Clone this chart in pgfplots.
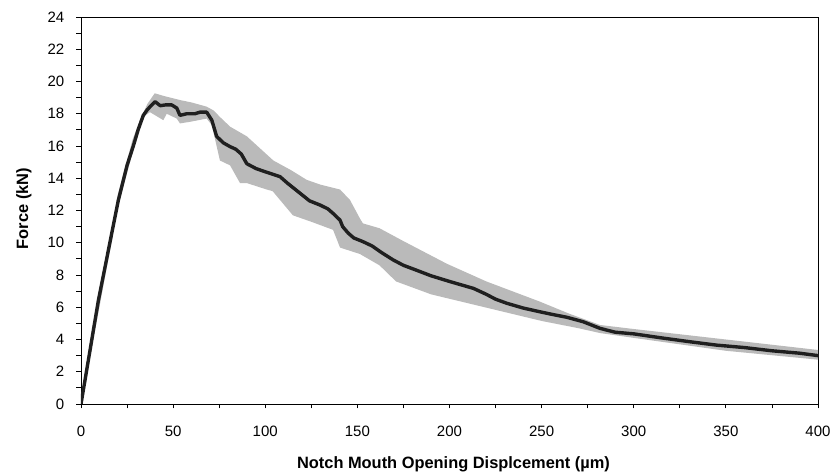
\documentclass[border=0pt]{standalone}
\usepackage{fontspec}
\setmainfont{Liberation Sans}
\usepackage{pgfplots}
\pgfplotsset{compat=1.18}
\usepgfplotslibrary{fillbetween}
\begin{document}
\begin{tikzpicture}
\begin{axis}[
  name=ax,
  scale only axis,
  width=737pt, height=387pt,
  xmin=0, xmax=400, ymin=0, ymax=24,
  xtick={0,50,...,400}, ytick={0,2,...,24},
  minor x tick num=1, minor y tick num=1,
  tick align=outside, tickpos=left,
  major tick length=4.5pt, minor tick length=4.5pt,
  every tick/.style={black, line width=0.8pt},
  axis line style={line width=0.9pt},
  tick label style={font=\fontsize{15}{17}\selectfont},
  /pgf/number format/assume math mode=true,
  xticklabel style={anchor=base, yshift=-28pt},
  yticklabel style={anchor=east, inner sep=0pt, xshift=-12pt},
  xlabel={\bfseries Notch Mouth Opening Displcement (µm)},
  ylabel={\bfseries Force (kN)},
  label style={font=\fontsize{16.4}{18}\selectfont},
  xlabel style={at={(axis description cs:0.5054,-0.1654)}, anchor=base},
  ylabel style={at={(axis description cs:-0.0719,0.505)}, anchor=base, rotate=0},
]
\addplot[name path=up, draw=none] coordinates {
(0,0.1) (10,7.0) (20,13.0) (28,16.4) (32,17.6) (36,18.6) (40,19.27) (45,19.1)
(53.7,18.85) (60,18.7) (68.2,18.44) (72,18.2) (75.4,17.8) (80.9,17.2) (90,16.6)
(104.4,15.1) (114,14.5) (122.5,13.9) (130,13.6) (140.6,13.3) (146,12.65)
(151.4,11.5) (153,11.2) (162,10.9) (175,10.1) (198.5,8.7) (220,7.6) (249,6.35)
(265,5.6) (281.7,4.9) (300,4.65) (350,4.0) (400,3.35)
};
\addplot[name path=lo, draw=none] coordinates {
(0,0) (10,6.0) (20,12.2) (28,15.6) (32,17.2) (35,17.9) (37.4,18.1) (44.7,17.6)
(46.5,18.0) (52,17.7) (53.7,17.4) (59.2,17.5) (68.2,17.7) (71,17.3) (73.6,16.0)
(75.4,15.1) (80.9,14.8) (86.3,13.7) (90,13.7) (100.8,13.3) (104,13.2) (115,11.7)
(125,11.3) (136.8,10.8) (140.6,9.7) (151.4,9.3) (162,8.6) (171,7.6) (190,6.8)
(218,6.03) (250,5.15) (270,4.7) (281.7,4.4) (300,4.1) (350,3.3) (400,2.75)
};
\addplot[fill=black!27, draw=none] fill between[of=up and lo];
\addplot[color=black!88, line width=3.4pt, line join=round, line cap=round] coordinates {
(0,0) (5,3.4) (9.4,6.4) (14.8,9.5) (20.2,12.6) (25,14.8) (28.4,16.0) (31,17.0)
(33.8,17.9) (36,18.25) (38,18.5) (40.2,18.75) (43,18.5) (46,18.55) (49.2,18.55)
(52,18.35) (53.7,17.9) (57.4,18.0) (61.9,18.0) (64.6,18.1) (68.2,18.1) (71,17.6)
(73.6,16.6) (77.2,16.2) (80.9,15.96) (84,15.8) (87,15.5) (90,14.9) (95,14.6)
(100,14.4) (108,14.1) (112,13.7) (118.9,13.07) (124,12.6) (129.7,12.34)
(134,12.1) (137,11.8) (140.6,11.4) (142,11.0) (145,10.6) (148,10.3) (153,10.07)
(158,9.8) (163,9.4) (169.5,8.93) (175,8.6) (182,8.3) (190,7.95) (200,7.6)
(206,7.4) (213,7.17) (220,6.8) (225,6.5) (231,6.25) (240,5.95) (249,5.72)
(256,5.55) (263.6,5.38) (272.6,5.1) (281.7,4.69) (290,4.45) (300,4.35)
(315,4.1) (330.5,3.86) (345,3.65) (360,3.5) (375,3.3) (390,3.15) (400,3.0)
};
\end{axis}
\pgfresetboundingbox
\path[use as bounding box] ([xshift=-81pt,yshift=-71pt]ax.south west) rectangle ([xshift=17pt,yshift=17pt]ax.north east);
\end{tikzpicture}
\end{document}
